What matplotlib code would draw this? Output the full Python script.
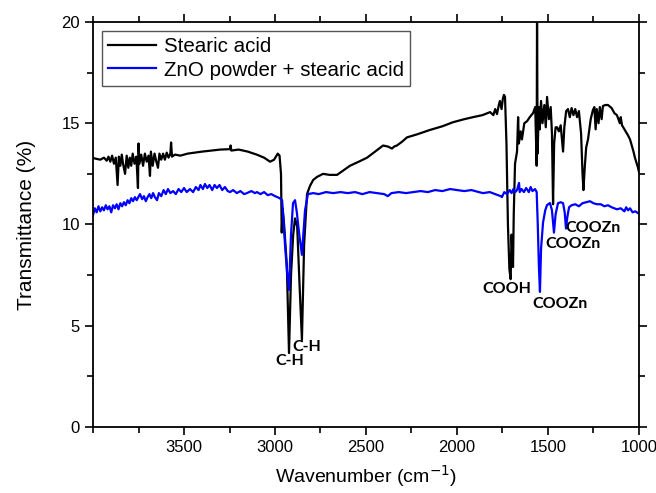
import numpy as np
import matplotlib
matplotlib.use('Agg')
import matplotlib.pyplot as plt
from matplotlib.ticker import MultipleLocator

plt.rcParams['font.family'] = ['Liberation Sans', 'DejaVu Sans']

# stearic acid (black) - wavenumber, transmittance
wn_sa = [4000, 3960, 3940, 3925, 3915, 3905, 3895, 3885, 3875, 3865, 3858, 3850, 3842, 3835, 3824,
         3815, 3806, 3798, 3790, 3782, 3772, 3762, 3753, 3750, 3745, 3735, 3725, 3715, 3705, 3695,
         3687, 3682, 3672, 3662, 3652, 3643, 3635, 3625, 3615, 3605, 3595, 3585, 3575, 3571, 3566,
         3550, 3520, 3480, 3440, 3400, 3350, 3300, 3247, 3244, 3240, 3200, 3150, 3100, 3060, 3027,
         3005, 2985, 2975, 2967, 2963, 2958, 2950, 2935, 2923, 2912, 2900, 2890, 2878, 2865, 2852,
         2840, 2824, 2808, 2790, 2769, 2736, 2700, 2659, 2620, 2588, 2540, 2494, 2450, 2406, 2380,
         2357, 2345, 2330, 2300, 2275, 2220, 2148, 2080, 2022, 1960, 1912, 1860, 1818, 1800, 1790,
         1780, 1770, 1764, 1755, 1748, 1742, 1736, 1728, 1720, 1712, 1705, 1700, 1692, 1688, 1681,
         1670, 1664, 1660, 1650, 1643, 1630, 1615, 1600, 1582, 1570, 1562, 1560, 1557, 1550, 1545,
         1538, 1530, 1520, 1512, 1505, 1495, 1485, 1478, 1472, 1466, 1458, 1450, 1440, 1430, 1417,
         1410, 1400, 1390, 1380, 1370, 1360, 1350, 1340, 1330, 1318, 1310, 1305, 1298, 1290, 1280,
         1265, 1253, 1245, 1238, 1232, 1222, 1215, 1205, 1198, 1185, 1170, 1150, 1135, 1121, 1105,
         1100, 1093, 1080, 1060, 1049, 1030, 1022, 1005, 1000]
t_sa = [13.28, 13.2, 13.3, 13.15, 13.35, 13.1, 13.4, 13.0, 13.3, 11.95, 13.35, 12.9, 13.45, 13.0, 12.5,
        13.4, 12.8, 13.3, 12.9, 13.5, 13.0, 13.35, 11.8, 14.0, 13.0, 13.45, 12.9, 13.5, 13.1, 13.4,
        12.4, 13.6, 12.9, 13.5, 13.1, 12.8, 13.5, 13.2, 13.5, 13.2, 13.55, 13.3, 13.5, 14.05, 13.35,
        13.45, 13.4, 13.5, 13.55, 13.6, 13.65, 13.7, 13.72, 13.9, 13.65, 13.7, 13.6, 13.45, 13.3, 13.1,
        13.2, 13.5, 13.4, 12.5, 9.6, 10.8, 10.0, 8.0, 3.65, 7.5, 9.5, 10.3, 9.9, 7.0, 4.3,
        9.0, 11.5, 11.9, 12.2, 12.35, 12.5, 12.45, 12.45, 12.7, 12.9, 13.1, 13.3, 13.6, 13.9, 13.85,
        13.75, 13.85, 13.9, 14.1, 14.3, 14.45, 14.67, 14.85, 15.05, 15.2, 15.3, 15.4, 15.55, 15.4, 15.7,
        15.45, 15.9, 16.1, 15.7, 16.2, 16.4, 16.3, 14.0, 10.0, 7.8, 7.3, 9.5, 7.9, 10.5, 13.0,
        13.6, 15.3, 14.0, 14.6, 14.2, 15.0, 15.1, 15.3, 15.5, 15.8, 12.9, 20.5, 13.5, 15.8, 14.7,
        16.1, 15.0, 15.9, 14.8, 16.3, 15.2, 15.8, 14.5, 11.0, 14.0, 14.8, 14.8, 14.6, 14.9, 13.6,
        14.8, 15.6, 15.7, 15.3, 15.75, 15.4, 15.7, 15.3, 15.6, 14.5, 12.5, 11.7, 12.8, 13.8, 14.2,
        15.2, 15.65, 15.8, 14.7, 15.7, 15.0, 15.8, 15.2, 15.85, 15.9, 15.9, 15.75, 15.5, 15.4, 15.0,
        15.3, 14.9, 14.7, 14.4, 14.2, 13.6, 13.3, 12.8, 12.6]

# ZnO powder + stearic acid (blue)
wn_zn = [4000, 3990, 3980, 3970, 3960, 3950, 3940, 3930, 3920, 3910, 3900, 3890, 3880, 3870, 3860,
         3850, 3840, 3830, 3820, 3810, 3800, 3790, 3780, 3770, 3760, 3742, 3730, 3720, 3710, 3700,
         3690, 3680, 3670, 3660, 3648, 3638, 3625, 3612, 3600, 3588, 3575, 3560, 3545, 3530, 3515,
         3500, 3485, 3467, 3450, 3435, 3420, 3410, 3396, 3385, 3372, 3360, 3345, 3332, 3319, 3305,
         3290, 3275, 3260, 3247, 3230, 3210, 3190, 3170, 3154, 3130, 3110, 3099, 3080, 3060, 3040,
         3020, 3000, 2989, 2975, 2961, 2956, 2945, 2935, 2923, 2912, 2901, 2890, 2880, 2868, 2852,
         2842, 2835, 2819, 2790, 2760, 2720, 2680, 2640, 2600, 2560, 2520, 2480, 2440, 2400, 2380,
         2360, 2320, 2280, 2240, 2200, 2160, 2120, 2080, 2038, 2000, 1960, 1920, 1880, 1857, 1820,
         1790, 1760, 1753, 1740, 1725, 1710, 1700, 1690, 1680, 1670, 1659, 1655, 1645, 1632, 1620,
         1605, 1595, 1585, 1571, 1562, 1556, 1550, 1544, 1538, 1527, 1515, 1505, 1489, 1478, 1467,
         1458, 1445, 1430, 1417, 1408, 1401, 1393, 1384, 1370, 1350, 1330, 1310, 1290, 1269, 1250,
         1230, 1210, 1190, 1170, 1150, 1121, 1100, 1080, 1070, 1060, 1049, 1035, 1020, 1005, 1000]
t_zn = [10.47, 10.8, 10.6, 10.9, 10.65, 10.85, 10.7, 10.95, 10.75, 10.9, 10.6, 10.95, 10.8, 11.0, 10.75,
        11.05, 10.9, 11.1, 10.95, 11.2, 11.05, 11.3, 11.15, 11.35, 11.2, 11.5, 11.25, 11.4, 11.15, 11.35,
        11.5, 11.3, 11.55, 11.35, 11.2, 11.55, 11.4, 11.7, 11.5, 11.75, 11.55, 11.65, 11.5, 11.75, 11.6,
        11.8, 11.6, 11.75, 11.6, 11.85, 11.7, 11.95, 11.75, 12.0, 11.8, 11.95, 11.7, 11.95, 11.8, 11.95,
        11.7, 11.85, 11.65, 11.6, 11.7, 11.55, 11.65, 11.5, 11.55, 11.65, 11.55, 11.6, 11.5, 11.6, 11.45,
        11.5, 11.4, 11.36, 11.3, 11.2, 10.56, 9.0, 7.8, 6.77, 9.5, 11.05, 11.2, 10.6, 9.6, 8.5,
        9.8, 10.7, 11.5, 11.55, 11.5, 11.6, 11.55, 11.6, 11.55, 11.6, 11.5, 11.6, 11.55, 11.5, 11.4,
        11.55, 11.6, 11.55, 11.6, 11.65, 11.6, 11.7, 11.65, 11.75, 11.7, 11.65, 11.7, 11.6, 11.55, 11.6,
        11.5, 11.4, 11.35, 11.6, 11.5, 11.7, 11.55, 11.75, 11.6, 11.7, 12.05, 11.6, 11.75, 11.6, 11.8,
        11.6, 11.85, 11.65, 11.75, 11.6, 10.0, 8.0, 6.67, 8.8, 10.1, 10.7, 10.96, 11.06, 10.7, 9.6,
        10.5, 11.05, 11.1, 11.05, 10.6, 9.8, 10.4, 10.85, 10.95, 11.0, 10.9, 11.05, 11.1, 11.15, 11.05,
        11.0, 11.0, 10.9, 10.95, 10.85, 10.75, 10.8, 10.65, 10.85, 10.7, 10.8, 10.6, 10.65, 10.56, 10.55]

# peak labels
peak_text = ['C-H', 'C-H', 'COOH', 'COOZn', 'COOZn', 'COOZn']
peak_wn = [2917, 2824, 1725, 1434, 1362, 1252]
peak_t = [3.26, 3.95, 6.81, 6.07, 9.04, 9.83]

fig = plt.figure(figsize=(6.56, 4.93), dpi=100)
ax = fig.add_axes([0.1418, 0.1339, 0.8322, 0.8215])
ax.plot(wn_sa, t_sa, color='black', linewidth=1.6, label='Stearic acid')
ax.plot(wn_zn, t_zn, color='#0000ff', linewidth=1.6, label='ZnO powder + stearic acid')

for s, xw, yt in zip(peak_text, peak_wn, peak_t):
    ax.text(xw, yt, s, ha='center', va='center', fontsize=11.5, fontweight='bold',
            family=['Lato', 'DejaVu Sans'])

ax.set_xlim(4000, 1000)
ax.set_ylim(0, 20)
ax.set_xticks([3500, 3000, 2500, 2000, 1500, 1000])
ax.xaxis.set_minor_locator(MultipleLocator(250))
ax.yaxis.set_major_locator(MultipleLocator(5))
ax.yaxis.set_minor_locator(MultipleLocator(2.5))
ax.tick_params(which='both', direction='out', top=True, right=True, labelsize=12, width=1.2)
ax.tick_params(which='major', length=6)
ax.tick_params(which='minor', length=4)
for sp in ax.spines.values():
    sp.set_linewidth(1.3)

ax.set_xlabel('Wavenumber (cm$^{-1}$)', fontsize=14, labelpad=6)
ax.set_ylabel('Transmittance (%)', fontsize=15, labelpad=18)

leg = ax.legend(loc='upper left', fontsize=14.8, fancybox=False, edgecolor='#555555',
                framealpha=1, handlelength=2.3, borderpad=0.3, labelspacing=0.2,
                handletextpad=0.4, borderaxespad=0.45)
leg.get_frame().set_linewidth(1.0)

fig.savefig('out.png', dpi=100)
